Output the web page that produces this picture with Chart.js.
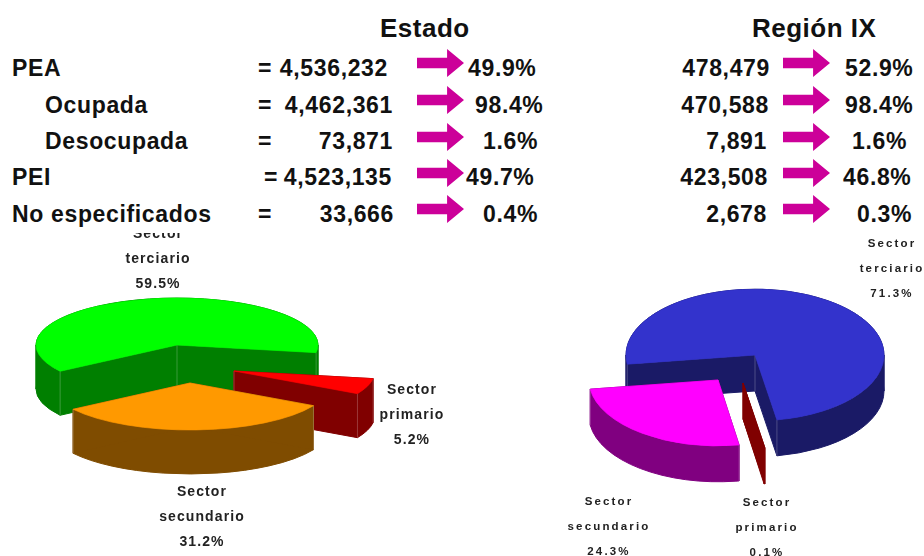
<!DOCTYPE html>
<html lang="es"><head><meta charset="utf-8">
<script src="https://cdn.jsdelivr.net/npm/chart.js@4/dist/chart.umd.js"></script>
<style>
html,body{margin:0;padding:0;background:#fff;overflow:hidden}
#page{position:relative;width:924px;height:556px;overflow:hidden;filter:blur(.6px);font-family:"Liberation Sans",Arial,sans-serif;color:#111}
canvas{position:absolute;top:0}
#table{position:absolute;left:0;top:0;width:924px;height:233px;background:#fff;z-index:3}
.t{position:absolute;font-weight:bold;font-size:23px;line-height:26px;white-space:nowrap;letter-spacing:.65px}
.a{position:absolute;width:47px;height:28px;background:#cc0099;clip-path:polygon(0 31%,64% 31%,64% 0,100% 50%,64% 100%,64% 69%,0 69%)}
.l{position:absolute;font-weight:bold;white-space:pre;text-align:center;transform:translate(-50%,-50%);z-index:2;color:#222}
.l.a1{font-size:14px;letter-spacing:1.1px}
.l.a2{font-size:11.5px;letter-spacing:2.15px}
</style></head><body>
<div id="page">
<canvas id="c1" width="462" height="556" style="left:0;width:462px;height:556px"></canvas>
<canvas id="c2" width="462" height="556" style="left:462px;width:462px;height:556px"></canvas>
<div id="table"></div>
</div>
<script>
// ---- Data ----
const rowLabels = ['PEA', 'Ocupada', 'Desocupada', 'PEI', 'No especificados'];
const estadoValues = ['4,536,232', '4,462,361', '73,871', '4,523,135', '33,666'];
const estadoPct = ['49.9%', '98.4%', '1.6%', '49.7%', '0.4%'];
const regionValues = ['478,479', '470,588', '7,891', '423,508', '2,678'];
const regionPct = ['52.9%', '98.4%', '1.6%', '46.8%', '0.3%'];
const sectorNames = ['Sector\nterciario', 'Sector\nprimario', 'Sector\nsecundario'];
const estadoSectors = [59.5, 5.2, 31.2];
const regionSectors = [71.3, 0.1, 24.3];

// ---- Layout and style ----
const rowY = [68, 105, 141, 177, 214];
const arrowY = [63, 100, 137, 173, 209];
const labelX = [12, 45, 45, 12, 12];
const eqX = [258, 258, 258, 264, 258];
const estadoRight = [388, 393, 393, 392, 394];
const estadoPctX = [468, 475, 483, 466, 483];
const regionRight = [770, 769, 767, 768, 767];
const regionPctX = [845, 845, 852, 843, 857];
const table = document.getElementById('table');
function txt(s, css) {
  const d = document.createElement('div'); d.className = 't'; d.textContent = s;
  Object.assign(d.style, css); table.appendChild(d);
}
txt('Estado', {left:'380px', top:'15px', fontSize:'26px', letterSpacing:'.5px'});
txt('Región IX', {left:'752px', top:'15px', fontSize:'26px', letterSpacing:'.5px'});
rowLabels.forEach((s, i) => {
  const top = (rowY[i] - 13) + 'px';
  txt(s, {left: labelX[i] + 'px', top});
  txt('=', {left: eqX[i] + 'px', top});
  txt(estadoValues[i], {right: (924 - estadoRight[i]) + 'px', top});
  txt(estadoPct[i], {left: estadoPctX[i] + 'px', top});
  txt(regionValues[i], {right: (924 - regionRight[i]) + 'px', top});
  txt(regionPct[i], {left: regionPctX[i] + 'px', top});
  [417, 783].forEach(x => {
    const a = document.createElement('div'); a.className = 'a';
    a.style.left = x + 'px'; a.style.top = (arrowY[i] - 14) + 'px'; table.appendChild(a);
  });
});

function sectorLabel(name, value, x, y, cls) {
  const d = document.createElement('div'); d.className = 'l ' + cls;
  d.textContent = name + '\n' + value.toFixed(1) + '%';
  d.style.left = x + 'px'; d.style.top = y + 'px';
  d.style.lineHeight = '25px';
  document.getElementById('page').appendChild(d);
}
sectorLabel(sectorNames[0], estadoSectors[0], 158, 258, 'a1');
sectorLabel(sectorNames[1], estadoSectors[1], 412, 414, 'a1');
sectorLabel(sectorNames[2], estadoSectors[2], 202, 516, 'a1');
sectorLabel(sectorNames[0], regionSectors[0], 892, 268, 'a2');
sectorLabel(sectorNames[1], regionSectors[1], 767, 527, 'a2');
sectorLabel(sectorNames[2], regionSectors[2], 609, 526, 'a2');

// Draws the library's arc elements, squashed; side walls follow each element's own angles and radius.
const pie3d = {
  id: 'pie3d',
  beforeDatasetsDraw(chart, args, o) {
    const ctx = chart.ctx;
    const arcs = chart.getDatasetMeta(0).data;
    o.order.forEach(i => {
      const el = arcs[i], shift = o.shift[i], base = el.options;
      const cx = o.cx + shift[0], cy = o.cy + shift[1];
      const r = el.outerRadius, ry = r * o.k, a1 = el.startAngle, a2 = el.endAngle;
      const corner = a => [cx + r * Math.cos(a), cy + ry * Math.sin(a)];

      ctx.save();
      ctx.fillStyle = ctx.strokeStyle = o.walls[i];
      ctx.lineWidth = 1; ctx.lineJoin = 'round';
      // outer rim, split where the ellipse turns back so each band is a simple shape
      const stops = [a1];
      for (let m = Math.ceil(a1 / Math.PI); m * Math.PI < a2; m++) stops.push(m * Math.PI);
      stops.push(a2);
      for (let s = 0; s + 1 < stops.length; s++) {
        ctx.beginPath();
        ctx.ellipse(cx, cy, r, ry, 0, stops[s], stops[s + 1]);
        ctx.ellipse(cx, cy + o.depth, r, ry, 0, stops[s + 1], stops[s], true);
        ctx.closePath(); ctx.fill(); ctx.stroke();
      }
      // two radial faces
      [a1, a2].forEach(a => {
        const p = corner(a);
        ctx.beginPath();
        ctx.moveTo(cx, cy); ctx.lineTo(p[0], p[1]);
        ctx.lineTo(p[0], p[1] + o.depth); ctx.lineTo(cx, cy + o.depth);
        ctx.closePath(); ctx.fill(); ctx.stroke();
      });
      // faint seams where faces meet
      if (el.circumference > 0.05) {
        ctx.strokeStyle = 'rgba(255,255,255,.22)';
        [[cx, cy], corner(a1), corner(a2)].forEach(p => {
          ctx.beginPath(); ctx.moveTo(p[0], p[1]); ctx.lineTo(p[0], p[1] + o.depth); ctx.stroke();
        });
      }
      ctx.restore();

      ctx.save();
      ctx.translate(cx, cy); ctx.scale(1, o.k); ctx.translate(-el.x, -el.y);
      el.options = Object.assign({}, base, {borderColor: base.backgroundColor, borderWidth: 1});
      el.draw(ctx);
      el.options = base;
      ctx.restore();
    });
    return false;
  }
};

function pie(id, values, tops, opts, radius) {
  const pad = 278 - radius;
  return new Chart(document.getElementById(id), {
    type: 'pie',
    data: {labels: sectorNames, datasets: [{data: values, backgroundColor: tops, borderWidth: 0, hoverOffset: 0}]},
    plugins: [pie3d],
    options: {
      responsive: false, animation: false, rotation: opts.rotation,
      layout: {padding: {top: pad, bottom: pad}},
      events: [],
      plugins: {legend: {display: false}, tooltip: {enabled: false}, pie3d: opts}
    }
  });
}
pie('c1', estadoSectors, ['#00ff00', '#ff0000', '#ff9900'], {
  rotation: 236, k: 0.333, depth: 44, cx: 177, cy: 345,
  walls: ['#007f00', '#800000', '#7f4c00'],
  shift: [[0, 0], [57, 26], [13, 38]],
  order: [0, 1, 2]
}, 141);
pie('c2', regionSectors, ['#3333cc', '#800000', '#ff00ff'], {
  rotation: 262, k: 0.51, depth: 36, cx: 293, cy: 355,
  walls: ['#1a1a66', '#800000', '#800080'],
  shift: [[0, 0], [-12, 28], [-37, 25]],
  order: [0, 1, 2]
}, 129);
</script>
</body></html>
